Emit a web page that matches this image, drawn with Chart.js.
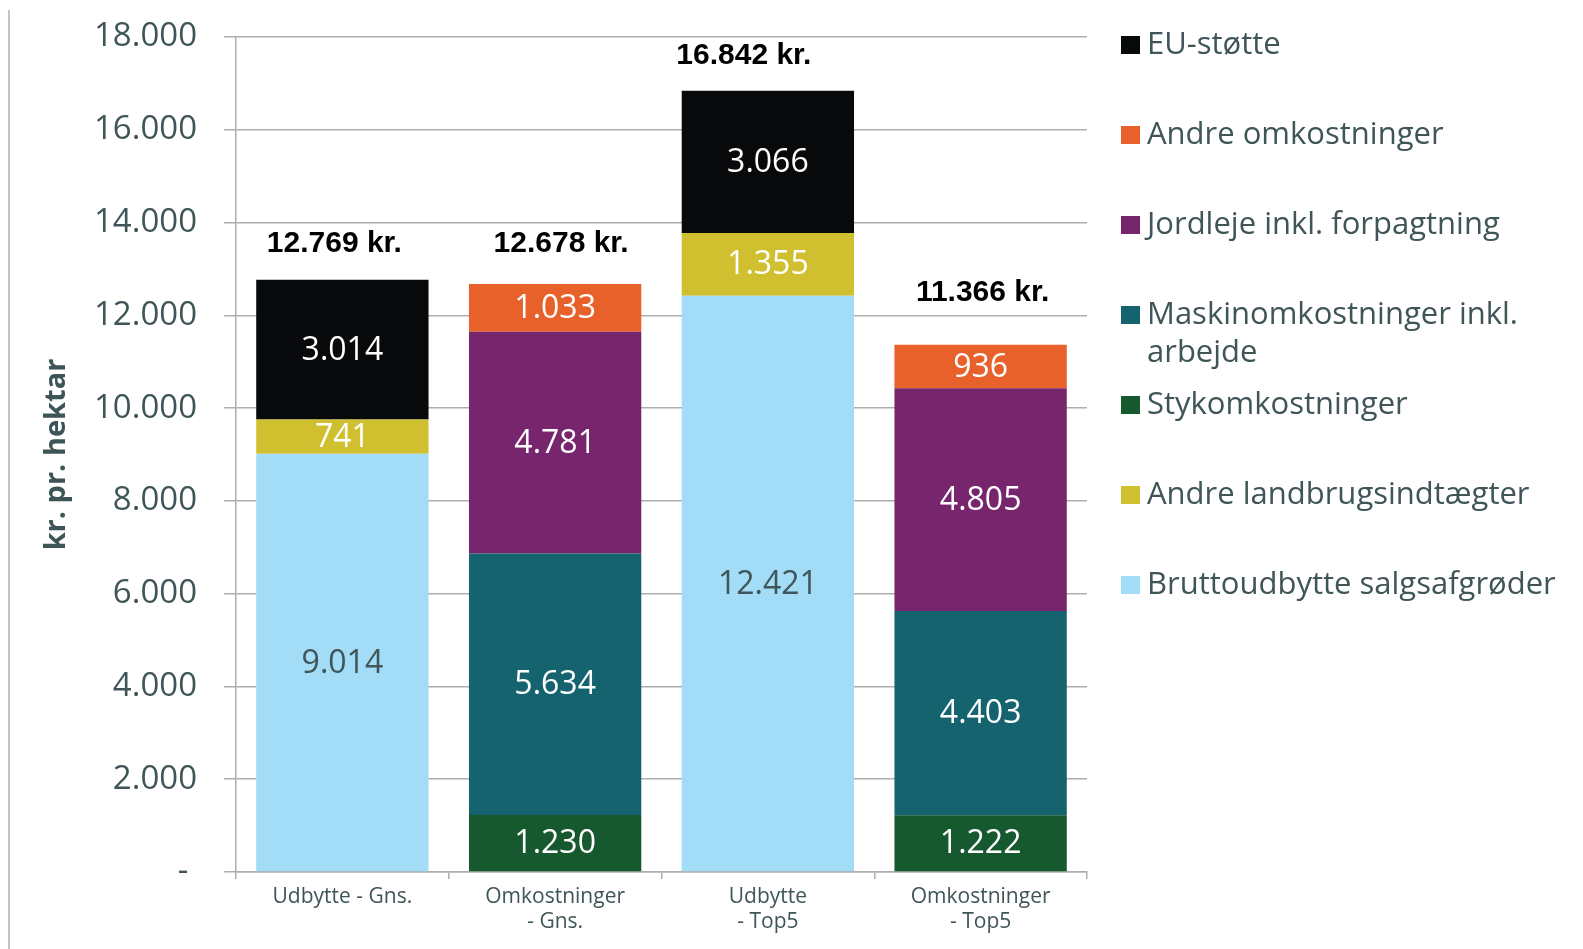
<!DOCTYPE html>
<html><head><meta charset="utf-8">
<script src="https://cdn.jsdelivr.net/npm/chart.js@4/dist/chart.umd.min.js"></script>
<style>html,body{margin:0;padding:0;background:#fff;} canvas{display:block;}</style>
</head><body>
<canvas id="c" width="1583" height="949"></canvas>
<script>
// ---- data ----
const categories = [["Udbytte - Gns."], ["Omkostninger", "- Gns."], ["Udbytte", "- Top5"], ["Omkostninger", "- Top5"]];
const bruttoudbytte = [9014, null, 12421, null];
const stykomkostninger = [null, 1230, null, 1222];
const maskinomkostninger = [null, 5634, null, 4403];
const jordleje = [null, 4781, null, 4805];
const andreOmkostninger = [null, 1033, null, 936];
const andreIndtaegter = [741, null, 1355, null];
const euStotte = [3014, null, 3066, null];
const totals = [12769, 12678, 16842, 11366];
const yTickValues = [0, 2000, 4000, 6000, 8000, 10000, 12000, 14000, 16000, 18000];
const legendOrder = [
  ["EU-støtte"],
  ["Andre omkostninger"],
  ["Jordleje inkl. forpagtning"],
  ["Maskinomkostninger inkl.", "arbejde"],
  ["Stykomkostninger"],
  ["Andre landbrugsindtægter"],
  ["Bruttoudbytte salgsafgrøder"]
];

// ---- style ----
const FONT = "'Open Sans', 'Noto Sans', sans-serif";
const TXT = '#3f5557';
const GRID = '#adadad';
const colors = {
  brutto: '#a2dcf7', styk: '#17592e', maskin: '#15636f', jord: '#77266e',
  andreOmk: '#e8602a', andreInd: '#d0c02f', eu: '#08090b'
};
const legendColors = [colors.eu, colors.andreOmk, colors.jord, colors.maskin, colors.styk, colors.andreInd, colors.brutto];
const totalShift = [[-8, 36], [6, 40], [-24, 35], [2, 52]];

const fmt = n => String(n).replace(/\B(?=(\d{3})+(?!\d))/g, '.');

const datasets = [
  {label: 'Bruttoudbytte salgsafgrøder', data: bruttoudbytte, backgroundColor: colors.brutto, textColor: TXT},
  {label: 'Stykomkostninger', data: stykomkostninger, backgroundColor: colors.styk, textColor: '#fff'},
  {label: 'Maskinomkostninger inkl. arbejde', data: maskinomkostninger, backgroundColor: colors.maskin, textColor: '#fff'},
  {label: 'Jordleje inkl. forpagtning', data: jordleje, backgroundColor: colors.jord, textColor: '#fff'},
  {label: 'Andre omkostninger', data: andreOmkostninger, backgroundColor: colors.andreOmk, textColor: '#fff'},
  {label: 'Andre landbrugsindtægter', data: andreIndtaegter, backgroundColor: colors.andreInd, textColor: '#fff'},
  {label: 'EU-støtte', data: euStotte, backgroundColor: colors.eu, textColor: '#fff'}
].map(d => Object.assign(d, {barPercentage: 0.81, categoryPercentage: 1.0, borderWidth: 0}));

const frame = {
  id: 'frame',
  beforeDraw(chart) {
    const ctx = chart.ctx;
    ctx.save();
    ctx.strokeStyle = '#c4c4c4';
    ctx.lineWidth = 2;
    ctx.beginPath(); ctx.moveTo(9, 10); ctx.lineTo(9, 949); ctx.stroke();
    ctx.restore();
  }
};

const segLabels = {
  id: 'segLabels',
  afterDatasetsDraw(chart) {
    const ctx = chart.ctx;
    ctx.save();
    ctx.font = '32px ' + FONT;
    ctx.textAlign = 'center';
    ctx.textBaseline = 'middle';
    chart.data.datasets.forEach((ds, i) => {
      const meta = chart.getDatasetMeta(i);
      meta.data.forEach((el, j) => {
        const v = ds.data[j];
        if (v == null) return;
        ctx.fillStyle = ds.textColor;
        ctx.fillText(fmt(v), el.x, (el.y + el.base) / 2 + 1);
      });
    });
    ctx.restore();
  }
};

const totalLabels = {
  id: 'totalLabels',
  afterDatasetsDraw(chart) {
    const ctx = chart.ctx, xs = chart.scales.x, ys = chart.scales.y;
    ctx.save();
    ctx.font = "bold 30px 'Liberation Sans', Arial, sans-serif";
    ctx.fillStyle = '#000';
    ctx.textAlign = 'center';
    ctx.textBaseline = 'middle';
    totals.forEach((t, j) => {
      const x = xs.getPixelForValue(j) + totalShift[j][0];
      const y = ys.getPixelForValue(t) - totalShift[j][1];
      ctx.fillText(fmt(t) + ' kr.', x, y);
    });
    ctx.restore();
  }
};

const sideLegend = {
  id: 'sideLegend',
  afterDraw(chart) {
    const ctx = chart.ctx;
    ctx.save();
    ctx.font = '31px ' + FONT;
    ctx.textBaseline = 'middle';
    ctx.textAlign = 'left';
    legendOrder.forEach((lines, i) => {
      const cy = 45 + 90 * i;
      ctx.fillStyle = legendColors[i];
      ctx.fillRect(1121, cy - 9, 19, 18);
      ctx.fillStyle = TXT;
      lines.forEach((ln, k) => ctx.fillText(ln, 1147, cy + 38 * k));
    });
    ctx.restore();
  }
};

new Chart(document.getElementById('c'), {
  type: 'bar',
  data: {labels: categories, datasets},
  options: {
    responsive: false,
    animation: false,
    devicePixelRatio: 1,
    layout: {padding: {left: 0, top: 37, right: 496, bottom: 0}},
    plugins: {legend: {display: false}, tooltip: {enabled: false}},
    scales: {
      x: {
        stacked: true,
        grid: {display: true, drawOnChartArea: false, drawTicks: true, tickLength: 7, color: GRID, lineWidth: 1.5, offset: true},
        border: {display: true, color: GRID, width: 1.5},
        ticks: {font: {family: FONT, size: 21}, color: TXT, padding: 5, maxRotation: 0, autoSkip: false},
        afterFit(s) { s.height = 77; s.paddingLeft = 0; s.paddingRight = 0; }
      },
      y: {
        stacked: true,
        min: 0, max: 18000,
        afterBuildTicks(s) { s.ticks = yTickValues.map(v => ({value: v})); },
        ticks: {
          font: {family: FONT, size: 33}, color: TXT, padding: 27,
          callback: v => v === 0 ? '- ' : fmt(v)
        },
        grid: {color: GRID, lineWidth: 1.5, tickLength: 12},
        border: {display: true, color: GRID, width: 1.5},
        title: {display: true, text: 'kr. pr. hektar', color: '#3d5557',
          font: {family: FONT, size: 29, weight: 'bold'}, padding: {top: 39, bottom: 0}},
        afterFit(s) { s.width = 236; s.paddingTop = 0; s.paddingBottom = 0; }
      }
    }
  },
  plugins: [frame, segLabels, totalLabels, sideLegend]
});
</script>
</body></html>
